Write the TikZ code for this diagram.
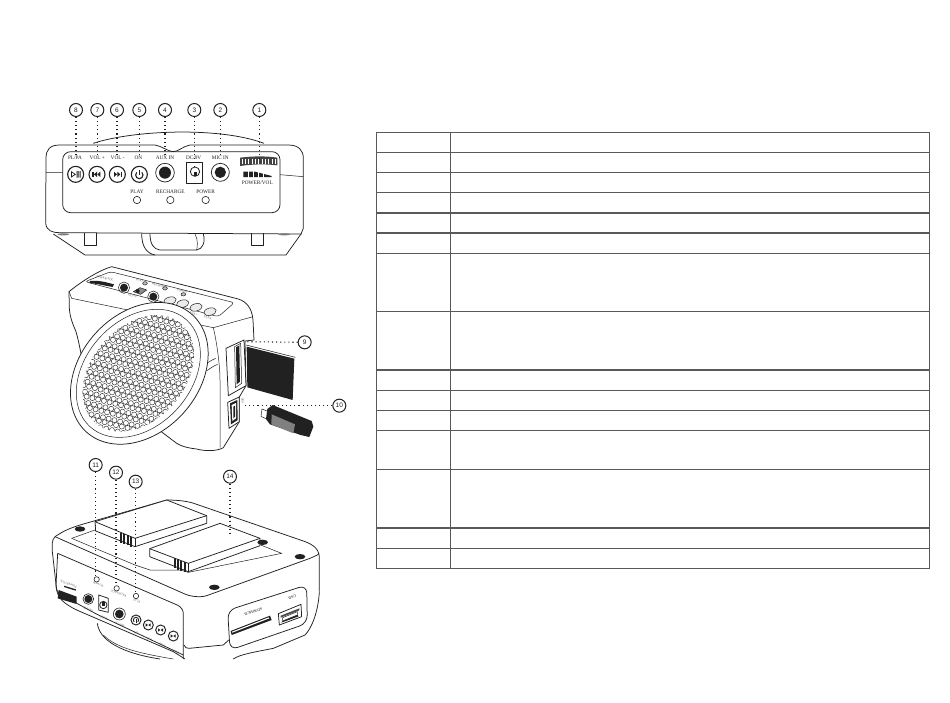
\documentclass[tikz,border=0pt]{standalone}
\usepackage{fontspec}
\setmainfont{Liberation Serif}
\newfontfamily\numfont{Liberation Sans}
\usetikzlibrary{calc}
\definecolor{ink}{gray}{0.13}
\definecolor{rulegray}{gray}{0.35}
\tikzset{
  num/.style={circle,draw=ink,line width=1pt,minimum size=13pt,inner sep=0pt,font=\numfont\fontsize{6.5}{7}\selectfont,text=ink},
  lead/.style={draw=ink,line width=1.1pt,dash pattern=on 1.1pt off 3pt},
  outl/.style={draw=ink,line width=.75pt,line join=round},
  thin/.style={draw=ink,line width=.5pt},
  lab/.style={font=\fontsize{5.3}{6}\selectfont,text=ink,inner sep=0pt},
  tiny/.style={font=\fontsize{3}{3.5}\selectfont,text=black!65,inner sep=0pt},
  px/.style={x=.33333pt,y=-.33333pt},
  tbl/.style={draw=rulegray,line width=.85pt},
}
\begin{document}
\begin{tikzpicture}[x=1pt,y=-1pt]
\useasboundingbox (0,0) rectangle (950,702);
\fill[white] (0,0) rectangle (950,702);

%% ---------- TOP VIEW ----------
\begin{scope}[shift={(40,90)},px]
\node[num] (n8) at (108,60) {8};
\node[num] (n7) at (172,60) {7};
\node[num] (n6) at (231,60) {6};
\node[num] (n5) at (298,60) {5};
\node[num] (n4) at (375,60) {4};
\node[num] (n3) at (463,60) {3};
\node[num] (n2) at (541,60) {2};
\node[num] (n1) at (658,60) {1};
\coordinate (e8) at (108,192);
\coordinate (e7) at (172,192);
\coordinate (e6) at (231,192);
\coordinate (e5) at (298,192);
\coordinate (e4) at (375,192);
\coordinate (e3) at (463,235);
\coordinate (e2) at (541,192);
\coordinate (e1) at (658,205);
\path[outl] (160,160) .. controls (280,120) and (540,110) .. (672,160);
\path[outl] (17,400) -- (18,205) .. controls (18,178) and (30,165) .. (60,165) -- (345,165) .. controls (365,168) and (385,185) .. (400,185) .. controls (415,185) and (430,168) .. (450,165) -- (745,165) .. controls (775,165) and (790,180) .. (790,205) -- (790,415) -- (783,432) -- (738,495) -- (135,495) -- (40,432);
\path[outl] (17,400) .. controls (20,422) and (35,428) .. (60,428) -- (785,432);
\path[outl,rounded corners=8pt] (68,185) rectangle (720,368);
\path[thin] (18,248) -- (68,248) (720,254) -- (790,260);
\path[outl] (133,430) -- (133,465) -- (170,465) -- (170,430);
\path[outl] (633,430) -- (633,465) -- (670,465) -- (670,430);
\path[outl] (305,430) .. controls (305,470) and (320,490) .. (345,495);
\path[outl] (330,432) .. controls (330,460) and (340,478) .. (360,480) -- (470,480) .. controls (488,478) and (497,455) .. (490,432);
\path[thin] (465,432) .. controls (475,450) and (472,470) .. (470,480);
\fill[ink!60] (70,433) ellipse (18 and 3);
\fill[ink!60] (733,433) ellipse (18 and 3);
% controls
\foreach \x in {107,171,232,298} \draw[ink,line width=1.1pt] (\x,253) circle (24);
\fill[ink] (93,243) -- (93,263) -- (108,253) -- cycle;
\fill[white] (96,248) -- (96,258) -- (103,253) -- cycle;
\fill[ink] (110,243) rectangle (113,263) (115,243) rectangle (118,263) (120,243) rectangle (122,263);
\foreach \c in {171} {\fill[ink] (\c-14,245) rectangle (\c-10,261); \fill[ink] (\c-9,253) -- (\c,245) -- (\c,261) -- cycle; \fill[ink] (\c+1,253) -- (\c+10,245) -- (\c+10,261) -- cycle;}
\foreach \c in {232} {\fill[ink] (\c+10,245) rectangle (\c+14,261); \fill[ink] (\c+9,253) -- (\c,245) -- (\c,261) -- cycle; \fill[ink] (\c-1,253) -- (\c-10,245) -- (\c-10,261) -- cycle;}
\draw[ink,line width=1.1pt] (290.2,247.2) arc (225:-45:11);
\draw[ink,line width=1.2pt] (298,240) -- (298,254);
\draw[ink,line width=.7pt] (375,248) circle (28);
\fill[ink] (375,248) circle (18);
\path[outl] (440,218) rectangle (487,280);
\draw[ink,line width=.8pt] (465,245) circle (14);
\fill[ink] (461,245) rectangle (471,258);
\draw[ink,line width=.7pt] (541,247) circle (27);
\fill[ink] (541,247) circle (17);
\fill[ink!85] (600,203) .. controls (640,198) and (680,198) .. (712,203) -- (712,226) .. controls (680,222) and (640,222) .. (600,228) -- cycle;
\foreach \x in {606,616,...,706} \draw[white,line width=.35pt] (\x,207) -- (\x,222);
\fill[ink] (610,245) -- (645,245) -- (695,258) -- (695,261) -- (610,261) -- cycle;
\foreach \x in {625,640,655,670} \draw[white,line width=.4pt] (\x,243) -- (\x,263);
\foreach \x in {291,391,497} \draw[ink,line width=.6pt] (\x,330) circle (11);
\node[lab] (tA) at (105,203) {PL/PA};
\node[lab] (tB) at (172,203) {VOL +};
\node[lab] (tC) at (233,203) {VOL -};
\node[lab] (tD) at (295,203) {ON};
\node[lab] (tE) at (375,203) {AUX IN};
\node[lab] (tF) at (461,203) {DC/9V};
\node[lab] (tG) at (541,203) {MIC IN};
\node[lab] (tH) at (652,279) {POWER/VOL};
\node[lab] (tI) at (291,306) {PLAY};
\node[lab] (tJ) at (391,306) {RECHARGE};
\node[lab] (tK) at (497,306) {POWER};
\end{scope}
\foreach \i in {1,...,8} \draw[lead] (n\i) -- (e\i);

%% ---------- SPEAKER VIEW ----------
\begin{scope}[shift={(50,265)},px]
\node[num] (n9) at (764,232) {9};
\node[num] (n10) at (868,422) {10};
\coordinate (e9) at (585,230);
\coordinate (e10) at (578,422);
% body
\path[outl,fill=white] (57,80) .. controls (100,45) and (150,15) .. (185,5) -- (565,102) .. controls (590,110) and (606,130) .. (609,165) -- (612,225) -- (585,228) -- (588,362) -- (568,396) -- (568,470) -- (520,548) .. controls (500,560) and (460,558) .. (440,552) .. controls (420,550) and (395,545) .. (380,535) -- (110,330) .. controls (95,290) and (90,240) .. (78,200) .. controls (70,180) and (60,160) .. (58,130) -- cycle;
\path[thin] (57,80) -- (65,100) -- (490,188) -- (609,155);
\path[thin] (490,188) .. controls (500,230) and (510,300) .. (510,345) -- (510,548);
\path[thin] (462,300) .. controls (475,292) and (485,285) .. (497,280);
\path[thin] (470,318) .. controls (480,310) and (492,302) .. (503,298);
% top panel
\path[thin,rounded corners=3pt] (105,50) -- (182,20) -- (553,113) -- (505,155) -- cycle;
\fill[ink] (120,48) .. controls (145,45) and (170,52) .. (192,58) -- (188,66) .. controls (165,62) and (140,56) .. (118,54) -- cycle;
\fill[ink] (222,68) circle (12);
\draw[ink,line width=.5pt] (222,68) circle (17);
\path[thin,fill=black!45] (250,80) -- (270,68) -- (290,75) -- (272,88) -- cycle;
\fill[ink] (263,78) circle (6);
\fill[ink] (310,95) circle (12);
\draw[ink,line width=.5pt] (310,95) circle (17);
\foreach \x/\y in {360/107,398/116,438/127,480/140} \path[thin,fill=black!8,rotate around={14:(\x,\y)}] (\x,\y) ellipse (19 and 11);
\foreach \x/\y in {285/55,345/70,400/88} \path[thin,fill=black!25] (\x,\y) ellipse (7 and 5);
\node[tiny,rotate=-14] at (165,40) {POWER/VOL};
\node[tiny,rotate=-14] at (248,92) {DC/9V};
\node[tiny,rotate=-14] at (270,46) {PLAY};
\node[tiny,rotate=-14] at (330,62) {RECHARGE};
\node[tiny,rotate=-14] at (397,78) {POWER};
\node[tiny,rotate=-14] at (355,126) {ON};
\node[tiny,rotate=-14] at (392,136) {VOL-};
\node[tiny,rotate=-14] at (432,147) {VOL+};
\node[tiny,rotate=-14] at (474,158) {PL/PA};
% grille
\path[outl,fill=white,rotate around={48:(268,325)}] (268,325) ellipse (237 and 178);
\path[thin,rotate around={48:(265,325)}] (265,325) ellipse (216 and 158);
\begin{scope}
\clip[rotate around={49:(265,325)}] (265,325) ellipse (197 and 140);
\foreach \r in {-16,...,16} {
  \foreach \c in {-16,...,16} {
    \pgfmathsetmacro{\px}{265+\c*17.2+mod(\r+16,2)*8.6-0.25*(\r*14.9)}
    \pgfmathsetmacro{\py}{325+\r*14.9+0.25*(\c*17.2)}
    \draw[ink,line width=.42pt] (\px,\py) circle (7.6);
  }
}
\end{scope}
% SD card and slot
\path[outl,fill=white] (528,250) -- (582,225) -- (588,362) -- (535,392) -- cycle;
\path[thin,fill=white] (554,245) -- (572,235) -- (575,355) -- (556,368) -- cycle;
\fill[ink] (558,247) -- (568,241) -- (570,350) -- (560,358) -- cycle;
\fill[ink] (590,245) -- (733,281) -- (728,405) -- (592,367) -- cycle;
\path[thin] (588,240) -- (736,277);
% USB port
\path[outl,fill=white] (533,412) -- (568,396) -- (568,470) -- (537,490) -- cycle;
\fill[ink] (540,415) -- (562,405) -- (563,465) -- (543,478) -- cycle;
\fill[white] (545,420) -- (558,414) -- (558,460) -- (547,468) -- cycle;
\fill[ink] (550,425) -- (555,422) -- (555,455) -- (550,460) -- cycle;
\node[tiny,rotate=90] at (578,408) {USB};
% USB stick
\path[thin,fill=white] (636,432) -- (656,440) -- (650,462) -- (633,454) -- cycle;
\fill[ink] (652,432) -- (668,420) -- (785,468) -- (790,485) -- (778,516) -- (752,510) -- (660,478) -- (648,462) -- cycle;
\fill[black!50] (665,448) -- (735,478) -- (730,505) -- (664,478) -- cycle;
\end{scope}
\draw[lead] (n9) -- (e9);
\draw[lead] (n10) -- (e10);

%% ---------- BOTTOM / BACK VIEW ----------
\begin{scope}[shift={(40,455)},px]
\node[num] (n11) at (167,30) {11};
\node[num] (n12) at (228,53) {12};
\node[num] (n13) at (287,80) {13};
\node[num] (n14) at (570,65) {14};
\coordinate (e11) at (167,362);
\coordinate (e12) at (228,390);
\coordinate (e13) at (287,414);
\coordinate (e14) at (570,245);
% lower skirt
\path[outl] (172,505) .. controls (180,570) and (280,600) .. (360,612);
\path[outl] (580,612) .. controls (600,598) and (640,592) .. (700,580) -- (795,540) .. controls (815,520) and (835,470) .. (838,410);
\path[thin] (190,540) .. controls (230,580) and (300,595) .. (400,612);
\path[outl] (432,570) .. controls (434,578) and (440,580) .. (447,580) -- (550,570) -- (566,555);
% outer body
\path[outl] (45,245) .. controls (75,225) and (90,220) .. (120,210) -- (380,135) .. controls (420,135) and (450,140) .. (470,148) -- (790,258) .. controls (825,270) and (838,285) .. (838,310) -- (838,410);
\path[outl] (45,245) .. controls (35,255) and (36,270) .. (37,290) -- (50,405) .. controls (55,430) and (70,445) .. (110,465) -- (400,590) -- (435,612);
\path[outl] (45,245) -- (430,415) .. controls (450,425) and (480,428) .. (500,422) -- (810,310) .. controls (825,303) and (835,300) .. (837,295);
\path[outl,rounded corners=6pt] (53,295) -- (430,458) -- (430,612);
\path[outl,rounded corners=6pt] (53,295) -- (47,410) -- (165,475) -- (430,600);
\path[outl,rounded corners=8pt] (563,466) -- (800,390) -- (802,505) -- (570,585) -- cycle;
% compartment
\path[thin] (95,250) -- (165,225);
\path[thin] (95,250) -- (285,330) -- (330,345) -- (420,345) -- (445,352) -- (725,295) -- (662,270);
% batteries
\path[outl,fill=white] (165,200) -- (380,135) -- (500,182) -- (500,205) -- (285,275) -- (167,228) -- cycle;
\path[outl] (165,200) -- (285,250) -- (500,182);
\path[outl] (285,250) -- (285,275);
\foreach \x in {240,250,260,270} \fill[ink] (\x,233) ++(0,{(\x-240)*.4}) rectangle ++(6,30);
\path[outl,fill=white] (329,281) -- (540,205) -- (660,250) -- (660,272) -- (445,350) -- (329,305) -- cycle;
\path[outl] (329,281) -- (445,325) -- (660,250);
\path[outl] (445,325) -- (445,350);
\foreach \x in {401,411,421,431} \fill[ink] (\x,309) ++(0,{(\x-401)*.4}) rectangle ++(6,31);
% screw holes
\foreach \x/\y in {120/222,668/262,780/305,523/397} \fill[ink] (\x,\y) ellipse (16 and 8);
% port panel
\fill[ink] (56,405) -- (110,425) -- (110,447) -- (53,430) -- cycle;
\fill[ink] (72,392) -- (108,403) -- (107,407) -- (72,396) -- cycle;
\fill[ink] (145,432) circle (12);
\draw[ink,line width=.6pt] (145,432) circle (16);
\path[outl] (176,420) -- (205,430) -- (205,472) -- (176,465) -- cycle;
\draw[ink,line width=.8pt] (190,450) circle (11);
\fill[ink] (186,442) rectangle (194,452);
\fill[ink] (238,477) circle (13);
\draw[ink,line width=.6pt] (238,477) circle (18);
\foreach \x/\y in {288/495,325/510,362/525,400/543} \draw[ink,line width=.95pt] (\x,\y) circle (15);
\draw[ink,line width=.9pt] (282.3,500.7) arc (135:405:8);
\draw[ink,line width=.9pt] (288,504) -- (288,492);
\foreach \x/\y in {325/510,362/525,400/543} {\fill[ink] (\x-8,\y-5) -- (\x-1,\y) -- (\x-8,\y+5) -- cycle; \fill[ink] (\x+7,\y-5) -- (\x,\y) -- (\x+7,\y+5) -- cycle;}
\foreach \x/\y in {170/373,230/400,288/423} \draw[ink,line width=.6pt] (\x,\y) circle (8);
\node[tiny,rotate=160] at (85,387) {POWER/VOL};
\node[tiny,rotate=160] at (145,463) {AUX IN};
\node[tiny,rotate=160] at (190,489) {DC/9V};
\node[tiny,rotate=160] at (240,509) {MIC IN};
\node[tiny,rotate=160] at (288,534) {ON};
\node[tiny,rotate=160] at (327,553) {VOL-};
\node[tiny,rotate=160] at (365,570) {VOL+};
\node[tiny,rotate=160] at (405,590) {PL/PA};
\node[tiny,rotate=160] at (175,388) {POWER};
\node[tiny,rotate=160] at (236,415) {RECHARGE};
\node[tiny,rotate=160] at (290,437) {PLAY};
% right panel
\fill[ink] (572,528) -- (690,482) -- (695,495) -- (575,540) -- cycle;
\fill[white] (576,530) -- (686,487) -- (688,490) -- (577,533) -- cycle;
\node[lab,rotate=200,font=\fontsize{4}{5}\selectfont] at (640,470) {SD/MMCB};
\node[lab,rotate=200,font=\fontsize{4}{5}\selectfont] at (757,427) {USB};
\path[outl] (715,476) -- (783,448) -- (785,485) -- (718,510) -- cycle;
\fill[ink!80] (722,482) -- (778,460) -- (778,466) -- (722,488) -- cycle;
\path[thin,fill=white] (728,488) -- (772,470) -- (772,480) -- (728,498) -- cycle;
\fill[ink] (728,498) -- (772,480) -- (776,484) -- (724,503) -- cycle;
\end{scope}
\foreach \i in {11,12,13,14} \draw[lead] (n\i) -- (e\i);

%% ---------- TABLE ----------
\draw[tbl] (376.5,132) rectangle (929,568);
\draw[tbl] (450.5,132) -- (450.5,568);
\foreach \y/\w in {152/.9,172.5/.8,192.7/.8,213/1.2,233/1.1,253/.8,311.3/.9,370/1.1,390.3/.8,410.3/.8,430/.8,469.3/.9,528/1.3,548/1} \draw[rulegray,line width=\w pt] (376.5,\y) -- (929,\y);
\end{tikzpicture}
\end{document}
